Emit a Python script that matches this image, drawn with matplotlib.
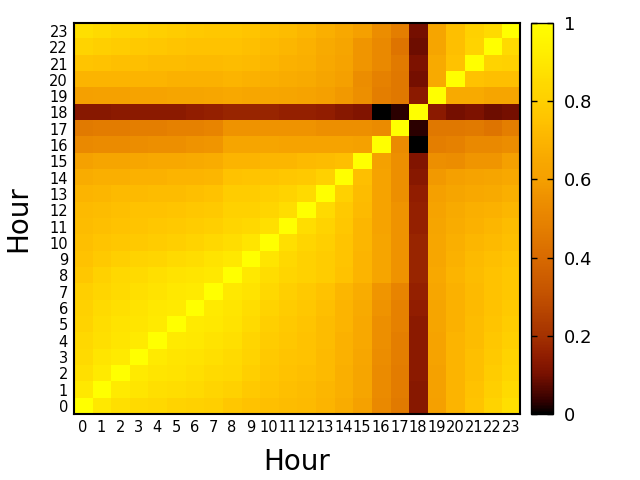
import numpy as np
import matplotlib
matplotlib.use("Agg")
import matplotlib.pyplot as plt
from matplotlib.colors import LinearSegmentedColormap

hours = list(range(24))
hour_labels = [str(h) for h in hours]

# lower triangle of the hour-to-hour correlation matrix (row i, columns 0..i-1)
corr_lower = [
    [],
    [0.90],
    [0.87, 0.91],
    [0.85, 0.89, 0.91],
    [0.84, 0.87, 0.89, 0.91],
    [0.82, 0.86, 0.88, 0.89, 0.91],
    [0.81, 0.85, 0.87, 0.88, 0.90, 0.91],
    [0.80, 0.83, 0.85, 0.87, 0.88, 0.90, 0.91],
    [0.77, 0.81, 0.84, 0.85, 0.87, 0.88, 0.89, 0.90],
    [0.75, 0.78, 0.80, 0.82, 0.83, 0.85, 0.86, 0.88, 0.90],
    [0.74, 0.76, 0.77, 0.78, 0.79, 0.80, 0.82, 0.84, 0.86, 0.89],
    [0.73, 0.74, 0.75, 0.76, 0.77, 0.78, 0.79, 0.80, 0.83, 0.84, 0.87],
    [0.72, 0.73, 0.74, 0.75, 0.75, 0.76, 0.77, 0.78, 0.81, 0.81, 0.83, 0.86],
    [0.70, 0.71, 0.72, 0.72, 0.73, 0.73, 0.74, 0.75, 0.79, 0.79, 0.80, 0.82, 0.85],
    [0.67, 0.68, 0.68, 0.69, 0.69, 0.70, 0.70, 0.71, 0.75, 0.76, 0.76, 0.77, 0.78, 0.81],
    [0.61, 0.63, 0.63, 0.64, 0.65, 0.65, 0.66, 0.67, 0.70, 0.70, 0.71, 0.71, 0.72, 0.73, 0.74],
    [0.52, 0.53, 0.53, 0.54, 0.55, 0.55, 0.56, 0.57, 0.63, 0.63, 0.63, 0.62, 0.62, 0.62, 0.62, 0.61],
    [0.46, 0.47, 0.47, 0.48, 0.48, 0.49, 0.49, 0.50, 0.56, 0.56, 0.56, 0.56, 0.56, 0.55, 0.55, 0.55, 0.53],
    [0.13, 0.13, 0.14, 0.14, 0.14, 0.14, 0.15, 0.16, 0.17, 0.17, 0.17, 0.16, 0.16, 0.15, 0.13, 0.12, 0.00, 0.03],
    [0.60, 0.61, 0.61, 0.62, 0.62, 0.63, 0.63, 0.64, 0.65, 0.64, 0.64, 0.63, 0.62, 0.60, 0.58, 0.55, 0.48, 0.45, 0.14],
    [0.70, 0.70, 0.70, 0.70, 0.70, 0.69, 0.69, 0.69, 0.70, 0.69, 0.68, 0.67, 0.66, 0.63, 0.60, 0.54, 0.49, 0.45, 0.10, 0.66],
    [0.76, 0.75, 0.74, 0.74, 0.73, 0.73, 0.72, 0.72, 0.73, 0.72, 0.71, 0.69, 0.68, 0.65, 0.62, 0.57, 0.52, 0.46, 0.11, 0.66, 0.75],
    [0.82, 0.80, 0.79, 0.78, 0.77, 0.76, 0.75, 0.75, 0.75, 0.74, 0.72, 0.71, 0.69, 0.66, 0.63, 0.57, 0.52, 0.44, 0.09, 0.63, 0.74, 0.82],
    [0.87, 0.85, 0.83, 0.82, 0.80, 0.79, 0.78, 0.77, 0.77, 0.76, 0.74, 0.73, 0.71, 0.68, 0.65, 0.60, 0.54, 0.48, 0.10, 0.63, 0.74, 0.81, 0.85],
]

n = len(hours)
corr = np.eye(n)
for i, row in enumerate(corr_lower):
    for j, v in enumerate(row):
        corr[i, j] = v
        corr[j, i] = v

cmap = LinearSegmentedColormap.from_list("blackhot", [
    (0.00, "#000000"),
    (0.03, "#300000"),
    (0.10, "#781000"),
    (0.15, "#921e00"),
    (0.20, "#a43200"),
    (0.30, "#c25000"),
    (0.40, "#d86a00"),
    (0.45, "#e07800"),
    (0.50, "#e88400"),
    (0.55, "#ee9000"),
    (0.60, "#f5a000"),
    (0.65, "#f8a800"),
    (0.70, "#fcb400"),
    (0.75, "#ffc200"),
    (0.80, "#ffcf00"),
    (0.85, "#ffda00"),
    (0.90, "#ffe800"),
    (1.00, "#ffff00"),
])

fig = plt.figure(figsize=(6.4, 4.8), dpi=100)
ax = fig.add_axes([0.115, 0.1375, 0.698, 0.815])
im = ax.imshow(corr, cmap=cmap, vmin=0, vmax=1, origin="lower",
               aspect="auto", interpolation="nearest",
               extent=(-0.5, n - 0.5, -0.5, n - 0.5))

ax.set_xticks(hours)
ax.set_xticklabels(hour_labels, fontsize=10.5)
ax.set_yticks(hours)
ax.set_yticklabels(hour_labels, fontsize=10.5)
ax.tick_params(length=0, pad=4)
ax.set_xlabel("Hour", fontsize=20, labelpad=10)
ax.set_ylabel("Hour", fontsize=20, labelpad=12)
for s in ax.spines.values():
    s.set_linewidth(1.5)

cax = fig.add_axes([0.830, 0.1375, 0.0344, 0.815])
cb = fig.colorbar(im, cax=cax)
cb.set_ticks([0, 0.2, 0.4, 0.6, 0.8, 1])
cb.set_ticklabels(["0", "0.2", "0.4", "0.6", "0.8", "1"])
cax.tick_params(labelsize=13, direction="in", length=4, width=1,
                left=True, right=True, pad=8)
cb.outline.set_linewidth(1)

fig.savefig("out.png", dpi=100)
